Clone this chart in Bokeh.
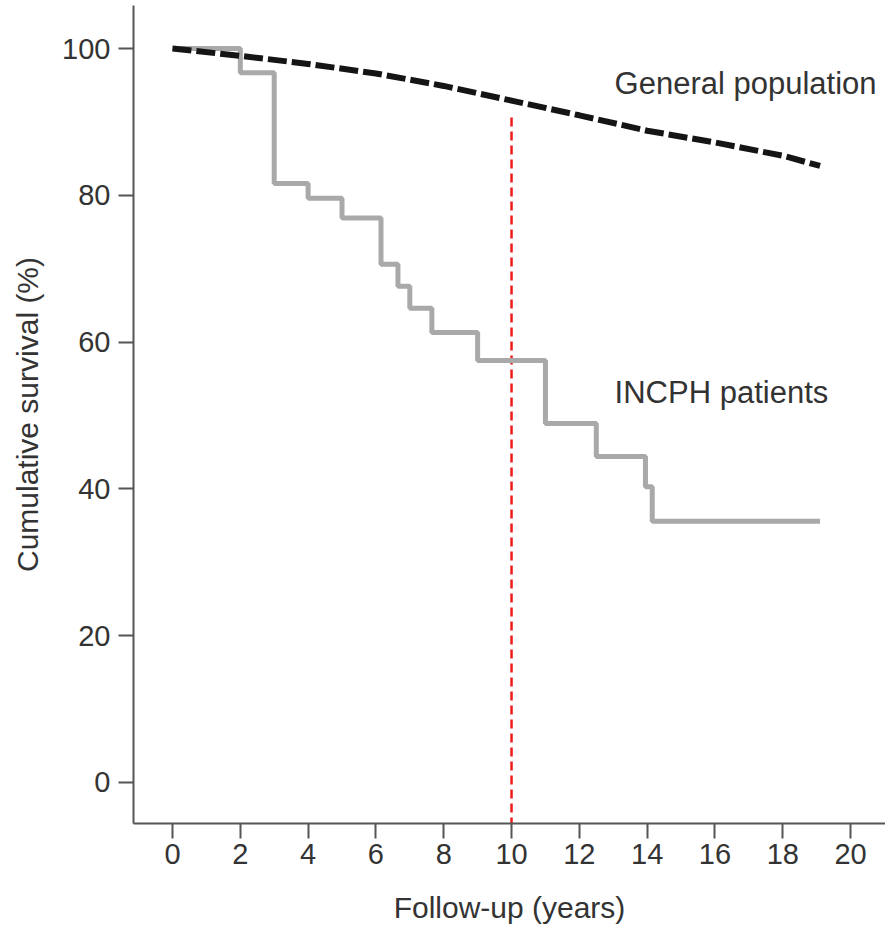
from bokeh.plotting import figure
from bokeh.models import Range1d, FixedTicker
from bokeh.core.properties import value
from bokeh.embed import file_html
from bokeh.resources import INLINE

# INCPH patients Kaplan-Meier steps
inc_years = [0, 2, 3, 4, 5, 6.15, 6.65, 7.0, 7.65, 9.0, 11.0, 12.5, 13.95, 14.15, 19.1]
inc_surv = [100, 96.7, 81.6, 79.6, 76.9, 70.6, 67.6, 64.6, 61.3, 57.5, 48.9, 44.4, 40.3, 35.6, 35.6]

# General population expected survival
gen_years = [0, 2, 4, 6, 8, 10, 12, 14, 16, 18, 19.1]
gen_surv = [100, 99.0, 97.9, 96.6, 94.9, 92.9, 90.9, 88.8, 87.2, 85.4, 84.0]

x_ticks = [0, 2, 4, 6, 8, 10, 12, 14, 16, 18, 20]
y_ticks = [0, 20, 40, 60, 80, 100]
ref_year = 10

FONT = "Liberation Sans"
AX = "#555555"
TXT = "#333333"

p = figure(width=885, height=930, output_backend="svg", toolbar_location=None,
           x_range=Range1d(-1.15, 21.03), y_range=Range1d(-5.59, 105.86),
           min_border_left=133, min_border_right=0, min_border_top=5, min_border_bottom=107)
p.outline_line_color = None
p.xgrid.visible = False
p.ygrid.visible = False
p.background_fill_color = "white"
p.border_fill_color = "white"

# reference line at 10 years
p.segment(x0=[ref_year], y0=[90.6], x1=[ref_year], y1=[-5.59],
          line_color="#f01c1c", line_width=2.5, line_dash="9 5")

p.step(inc_years, inc_surv, mode="after", line_color="#a9a9a9", line_width=5)
p.line(gen_years, gen_surv, line_color="#151515", line_width=6, line_dash="19 5")

p.text(x=[13.04], y=[95.2], text=["General population"], text_align="left",
       text_baseline="middle", text_font=value(FONT), text_font_size="31px", text_color=TXT)
p.text(x=[13.04], y=[53.1], text=["INCPH patients"], text_align="left",
       text_baseline="middle", text_font=value(FONT), text_font_size="31px", text_color=TXT)

for ax in (p.xaxis[0], p.yaxis[0]):
    ax.axis_line_color = AX
    ax.axis_line_width = 2
    ax.major_tick_line_color = AX
    ax.major_tick_line_width = 2
    ax.major_tick_out = 15
    ax.major_tick_in = 0
    ax.minor_tick_line_color = None
    ax.major_label_text_font = FONT
    ax.major_label_text_font_size = "29px"
    ax.major_label_text_color = TXT
    ax.axis_label_text_font = FONT
    ax.axis_label_text_font_size = "30px"
    ax.axis_label_text_font_style = "normal"
    ax.axis_label_text_color = TXT

p.xaxis.ticker = FixedTicker(ticks=x_ticks)
p.yaxis.ticker = FixedTicker(ticks=y_ticks)
p.xaxis.axis_label = "Follow-up (years)"
p.yaxis.axis_label = "Cumulative survival (%)"
p.xaxis.major_label_standoff = 5
p.yaxis.major_label_standoff = 8
p.xaxis.axis_label_standoff = 24
p.yaxis.axis_label_standoff = 15

open("out.html", "w").write(file_html(p, INLINE))
